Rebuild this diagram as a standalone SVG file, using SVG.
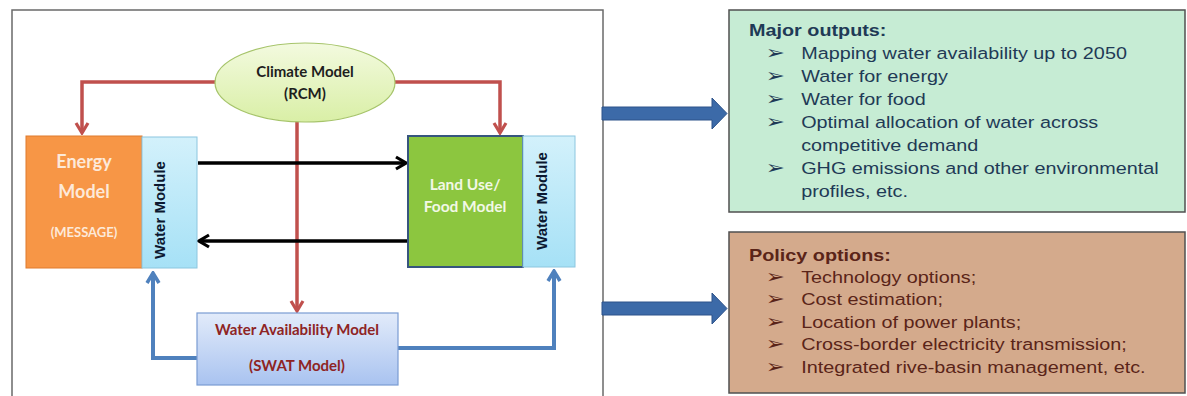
<svg xmlns="http://www.w3.org/2000/svg" width="1187" height="396" viewBox="0 0 1187 396">
<style>
.red{fill:none;stroke:#c0504d;stroke-width:3.5}
.blk{fill:none;stroke:#000;stroke-width:3.5}
.blu{fill:none;stroke:#4f81bd;stroke-width:4}
.cal{font-family:Lato,"Open Sans","Liberation Sans",sans-serif;font-weight:bold;text-anchor:middle}
.wm{font-family:"Liberation Sans",Arial,sans-serif;font-weight:bold;font-size:15px;fill:#0c1830;text-anchor:middle}
.rt{font-family:"Liberation Sans",Arial,sans-serif;font-size:16.5px}
.hd{font-weight:bold}
.bul{font-family:"DejaVu Sans",sans-serif;font-size:19px}
</style>
<defs>
<marker id="mr" markerUnits="userSpaceOnUse" viewBox="0 0 14 16" markerWidth="14" markerHeight="16" refX="12" refY="8" orient="auto">
<path d="M2,2 L12,8 L2,14" fill="none" stroke="#c0504d" stroke-width="3.2" stroke-linejoin="miter"/>
</marker>
<marker id="mk" markerUnits="userSpaceOnUse" viewBox="0 0 14 16" markerWidth="14" markerHeight="16" refX="12" refY="8" orient="auto">
<path d="M2,2 L12,8 L2,14" fill="none" stroke="#000" stroke-width="3.2"/>
</marker>
<marker id="mb" markerUnits="userSpaceOnUse" viewBox="0 0 14 16" markerWidth="14" markerHeight="16" refX="12" refY="8" orient="auto">
<path d="M2,2 L12,8 L2,14" fill="none" stroke="#4f81bd" stroke-width="3.5"/>
</marker>
<linearGradient id="gEll" x1="0" y1="0" x2="0" y2="1">
<stop offset="0" stop-color="#f3fadf"/><stop offset="1" stop-color="#d9efa6"/>
</linearGradient>
<linearGradient id="gWm" x1="0" y1="0" x2="0" y2="1">
<stop offset="0" stop-color="#d3f1fb"/><stop offset="1" stop-color="#a6e1f6"/>
</linearGradient>
<linearGradient id="gSw" x1="0" y1="0" x2="0" y2="1">
<stop offset="0" stop-color="#e2ebfa"/><stop offset="1" stop-color="#a9c3f0"/>
</linearGradient>
</defs>

<rect x="12" y="10" width="591" height="400" fill="#fff" stroke="#6a6a6a" stroke-width="1.5"/>

<g id="connectors">
<polyline class="red" points="222,82 82,82 82,133" marker-end="url(#mr)"/>
<polyline class="red" points="388,82 500,82 500,133" marker-end="url(#mr)"/>
<line class="red" x1="297" y1="121" x2="297" y2="311" marker-end="url(#mr)"/>
<line class="blk" x1="198" y1="163" x2="406" y2="163" marker-end="url(#mk)"/>
<line class="blk" x1="407" y1="241" x2="199" y2="241" marker-end="url(#mk)"/>
<polyline class="blu" points="198,358 153,358 153,273" marker-end="url(#mb)"/>
<polyline class="blu" points="398,348 554,348 554,271" marker-end="url(#mb)"/>
<path d="M602,107 H712 V98 L727,113.5 L712,129 V120 H602 Z" fill="#3c6aa8" stroke="#2d528a" stroke-width="1"/>
<path d="M602,302 H712 V293 L727,308.5 L712,324 V315 H602 Z" fill="#3c6aa8" stroke="#2d528a" stroke-width="1"/>
</g>

<g id="climate">
<ellipse cx="305" cy="82.5" rx="90" ry="39.5" fill="url(#gEll)" stroke="#a6c46a" stroke-width="1.2"/>
<text class="cal" x="305" y="77" font-size="15" fill="#1e1e1e">Climate Model</text>
<text class="cal" x="305" y="99" font-size="15" fill="#1e1e1e">(RCM)</text>
</g>

<g id="energy">
<rect x="26" y="136" width="116" height="132" fill="#f79646" stroke="#e07a2c" stroke-width="1"/>
<text class="cal" x="84" y="168" font-size="18" fill="#fde9d9">Energy</text>
<text class="cal" x="84" y="198" font-size="18" fill="#fde9d9">Model</text>
<text class="cal" x="84" y="237" font-size="13" fill="#fde9d9">(MESSAGE)</text>
</g>

<g id="water-module-left">
<rect x="142" y="137" width="55" height="131" fill="url(#gWm)" stroke="#8cc6df" stroke-width="1"/>
<text class="wm" transform="translate(165,210) rotate(-90)">Water Module</text>
</g>

<g id="landuse">
<rect x="408" y="136" width="115" height="131" fill="#8cc63f" stroke="#36557e" stroke-width="2"/>
<text class="cal" x="465" y="190" font-size="15.5" fill="#f2f8e6">Land Use/</text>
<text class="cal" x="465" y="212" font-size="15.5" fill="#f2f8e6">Food Model</text>
</g>

<g id="water-module-right">
<rect x="523" y="136" width="52" height="131" fill="url(#gWm)" stroke="#8cc6df" stroke-width="1"/>
<text class="wm" transform="translate(547,201) rotate(-90)">Water Module</text>
</g>

<g id="swat">
<rect x="197" y="313" width="201" height="72" fill="url(#gSw)" stroke="#7a9cd2" stroke-width="1.2"/>
<text class="cal" x="297" y="335" font-size="15" fill="#8e2424">Water Availability Model</text>
<text class="cal" x="297" y="371" font-size="15" fill="#8e2424">(SWAT Model)</text>
</g>

<g id="major-outputs">
<rect x="729" y="10" width="456" height="202" fill="#c6ecd4" stroke="#505050" stroke-width="1.5"/>
<g transform="translate(749,0) scale(1.2,1)" class="rt" fill="#1f3a56">
<text class="hd" x="0" y="36">Major outputs:</text>
<text class="bul" x="14" y="59">➢</text><text x="43.5" y="59">Mapping water availability up to 2050</text>
<text class="bul" x="14" y="82">➢</text><text x="43.5" y="82">Water for energy</text>
<text class="bul" x="14" y="105">➢</text><text x="43.5" y="105">Water for food</text>
<text class="bul" x="14" y="128">➢</text><text x="43.5" y="128">Optimal allocation of water across</text>
<text x="43.5" y="151">competitive demand</text>
<text class="bul" x="14" y="174">➢</text><text x="43.5" y="174">GHG emissions and other environmental</text>
<text x="43.5" y="197">profiles, etc.</text>
</g>
</g>

<g id="policy-options">
<rect x="729" y="232" width="456" height="161" fill="#d4aa8c" stroke="#505050" stroke-width="1.5"/>
<g transform="translate(749,0) scale(1.2,1)" class="rt" fill="#5a2418">
<text class="hd" x="0" y="261">Policy options:</text>
<text class="bul" x="14" y="283">➢</text><text x="43.5" y="283">Technology options;</text>
<text class="bul" x="14" y="305">➢</text><text x="43.5" y="305">Cost estimation;</text>
<text class="bul" x="14" y="328">➢</text><text x="43.5" y="328">Location of power plants;</text>
<text class="bul" x="14" y="350">➢</text><text x="43.5" y="350">Cross-border electricity transmission;</text>
<text class="bul" x="14" y="373">➢</text><text x="43.5" y="373">Integrated rive-basin management, etc.</text>
</g>
</g>
</svg>
